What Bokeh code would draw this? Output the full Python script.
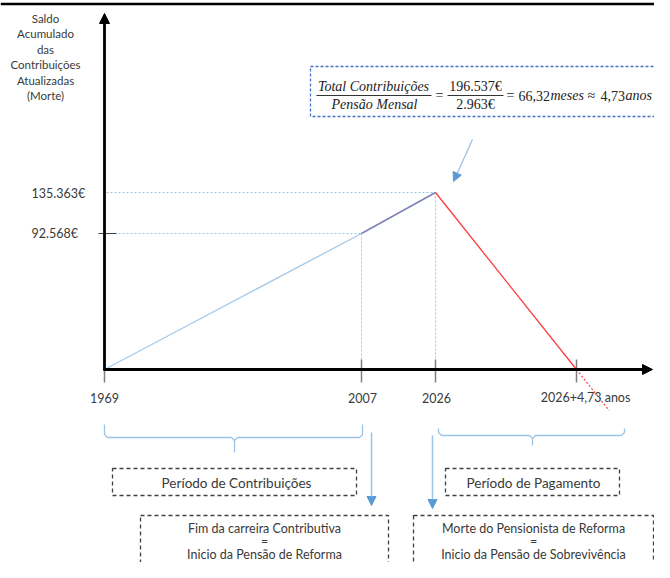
from bokeh.plotting import figure
from bokeh.models import Range1d, Arrow, NormalHead
from bokeh.core.properties import value
from bokeh.embed import file_html
from bokeh.resources import INLINE

# ---------------- data ----------------
year_labels = ["1969", "2007", "2026", "2026+4,73 anos"]
balance_eur = [0, 92568, 135363, 0]
balance_labels = {92568: "92.568€", 135363: "135.363€"}
y_title_lines = ["Saldo", "Acumulado", "das", "Contribuições", "Atualizadas", "(Morte)"]
total_contrib = "196.537€"
monthly_pension = "2.963€"
months_result = "66,32"
years_result = "4,73"
period_labels = ["Período de Contribuições", "Período de Pagamento"]
event_lines = [
    ["Fim da carreira Contributiva", "=", "Inicio da Pensão de Reforma"],
    ["Morte do Pensionista de Reforma", "=", "Inicio da Pensão de Sobrevivência"],
]

# ---------------- schematic layout (diagram is not to scale) ----------------
X_YEAR = [104, 361, 435, 576]
X_YEAR_LABEL = [104, 362, 436, 585]
Y_VALUE = {0: 369, 92568: 233, 135363: 192}
Y_BASE = Y_VALUE[0]

SANS = value("Lato")
SERIF = value("Liberation Serif")
TXT = "#3a3a3a"
GUIDE = "#9DC3E6"
ARROW_BLUE = "#5B9BD5"

p = figure(width=654, height=562, x_range=Range1d(0, 654), y_range=Range1d(562, 0),
           output_backend="svg", toolbar_location=None, min_border=0,
           x_axis_location=None, y_axis_location=None)
p.grid.visible = False
p.outline_line_color = None
p.background_fill_color = "white"
p.border_fill_color = "white"

# top rule
p.line([0, 654], [3.5, 3.5], line_color="black", line_width=2.5)

# point coordinates
pts_x = X_YEAR
pts_y = [Y_VALUE[v] for v in balance_eur]

# dotted guides to axes
for i in (1, 2):
    p.line([106, pts_x[i]], [pts_y[i], pts_y[i]], line_color=GUIDE, line_dash="2 2", line_width=1)
    p.line([pts_x[i], pts_x[i]], [pts_y[i], Y_BASE], line_color=GUIDE, line_dash="2 2", line_width=1)

# x ticks
for i, x in enumerate(X_YEAR):
    top = Y_BASE if i == 0 else Y_BASE - 10
    p.line([x, x], [top, Y_BASE + 13], line_color="#7f7f7f", line_width=1.5)

# y tick at 92.568
p.line([98, 116], [Y_VALUE[92568], Y_VALUE[92568]], line_color="#404040", line_width=1.2)

# data segments
p.line(pts_x[0:2], pts_y[0:2], line_color="#A9CBEA", line_width=1.4)
p.line(pts_x[1:3], pts_y[1:3], line_color="#7A82B5", line_width=1.5)
p.line(pts_x[2:4], pts_y[2:4], line_color="#FF3B3B", line_width=1.3)
slope = (pts_x[3] - pts_x[2]) / (pts_y[3] - pts_y[2])
ext_y = Y_BASE + 41
p.line([pts_x[3], pts_x[3] + (ext_y - pts_y[3]) * slope], [pts_y[3], ext_y],
       line_color="#FF3B3B", line_dash="2 2", line_width=1.2)

# axes with arrowheads
p.add_layout(Arrow(end=NormalHead(size=10, fill_color="black", line_color="black"),
                   x_start=104, y_start=Y_BASE + 1, x_end=104, y_end=13,
                   line_color="black", line_width=2.8))
p.add_layout(Arrow(end=NormalHead(size=10, fill_color="black", line_color="black"),
                   x_start=103, y_start=Y_BASE, x_end=652, y_end=Y_BASE,
                   line_color="black", line_width=2.8))

# x tick labels
p.text(x=X_YEAR_LABEL, y=[397] * 4, text=year_labels, text_font=SANS, text_font_size="12.5px",
       text_color=TXT, text_align="center", text_baseline="middle")

# y value labels
p.text(x=[31, 31], y=[Y_VALUE[135363] + 1, Y_VALUE[92568]],
       text=[balance_labels[135363], balance_labels[92568]], text_font=SANS,
       text_font_size="12.5px", text_color=TXT, text_align="left", text_baseline="middle")

# y title
p.text(x=[45] * len(y_title_lines), y=[18 + 15.4 * i for i in range(len(y_title_lines))],
       text=y_title_lines, text_font=SANS, text_font_size="11.5px", text_color=TXT,
       text_align="center", text_baseline="middle")

# formula box
p.quad(left=[310], right=[700], top=[66], bottom=[116], fill_color=None,
       line_color="#4472C4", line_dash="3 2", line_width=1.3)
fs = "14px"
FC = "#222222"
def ftxt(x, y, t, style="normal", align="left"):
    p.text(x=[x], y=[y], text=[t], text_font=SERIF, text_font_style=style, text_font_size=fs,
           text_color=FC, text_align=align, text_baseline="middle")

ftxt(373, 86, "Total Contribuições", "italic", "center")
ftxt(374, 104, "Pensão Mensal", "italic", "center")
p.line([316, 431], [95, 95], line_color="#333", line_width=1)
ftxt(439, 95, "=", align="center")
ftxt(475, 86, total_contrib, align="center")
ftxt(475, 104, monthly_pension, align="center")
p.line([447, 503], [95, 95], line_color="#333", line_width=1)
ftxt(506, 95, "=")
ftxt(518, 95, months_result)
ftxt(550, 95, "meses", "italic")
ftxt(587, 95, "≈")
ftxt(600, 95, years_result)
ftxt(625, 95, "anos", "italic")

# arrow from formula to peak
p.add_layout(Arrow(end=NormalHead(size=9, fill_color=ARROW_BLUE, line_color=ARROW_BLUE),
                   x_start=472, y_start=139, x_end=453, y_end=181,
                   line_color=GUIDE, line_width=1.3))

# braces
def brace(x0, x1, xm, ytop, yh, ytip, r=3):
    p.line([x0, x0, x0 + r, xm - r, xm, xm], [ytop, yh - r, yh, yh, yh + r, ytip],
           line_color=GUIDE, line_width=1.3)
    p.line([xm, xm + r, x1 - r, x1, x1], [yh + r, yh, yh, yh - r, ytop],
           line_color=GUIDE, line_width=1.3)

brace(104, 362, 234, 424, 437, 452)
brace(438, 624, 532, 428, 435, 445)

# period boxes
p.quad(left=[112, 445], right=[356, 619], top=[468, 468], bottom=[495, 495], fill_color=None,
       line_color="#404040", line_dash="4 3", line_width=1.3)
p.text(x=[236, 533], y=[482, 482], text=period_labels, text_font=SANS, text_font_size="13.5px",
       text_color=TXT, text_align="center", text_baseline="middle")

# vertical arrows
for x, y0, y1 in [(371, 432, 505), (432, 435, 508)]:
    p.add_layout(Arrow(end=NormalHead(size=9, fill_color=ARROW_BLUE, line_color=ARROW_BLUE),
                       x_start=x, y_start=y0, x_end=x, y_end=y1,
                       line_color=GUIDE, line_width=1.5))

# event boxes
p.quad(left=[140, 413], right=[388, 653], top=[515, 515], bottom=[620, 620], fill_color=None,
       line_color="#404040", line_dash="4 3", line_width=1.3)
for cx, lines in zip([264, 533], event_lines):
    p.text(x=[cx] * 3, y=[528, 541, 553.5], text=lines, text_font=SANS, text_font_size="12.5px",
           text_color=TXT, text_align="center", text_baseline="middle")

open("out.html", "w").write(file_html(p, INLINE))
